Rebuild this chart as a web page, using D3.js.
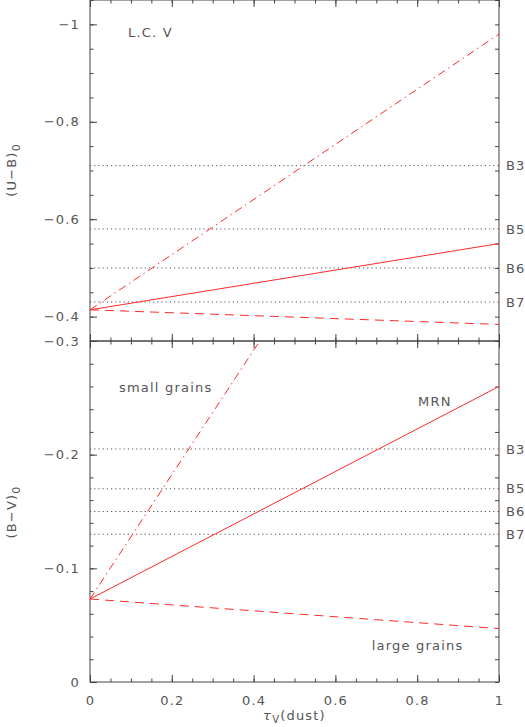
<!DOCTYPE html>
<html>
<head>
<meta charset="utf-8">
<script src="https://cdn.jsdelivr.net/npm/d3@7"></script>
<style>
  body { margin: 0; background: #fff; }
  svg { display: block; }
  text { font-family: "DejaVu Sans", sans-serif; font-size: 13px; fill: #555; letter-spacing: 1.2px; }
  .tick line { stroke: #444; }
</style>
</head>
<body>
<svg id="chart"></svg>
<script>
// optical depth of dust
var tau = [0, 1];

// (U-B)0 for the three grain models
var ubMRN   = [-0.414, -0.55];
var ubSmall = [-0.414, -0.98];
var ubLarge = [-0.414, -0.384];

// (B-V)0 for the three grain models
var bvMRN   = [-0.073, -0.26];
var bvSmall = [-0.073, -0.62];
var bvLarge = [-0.073, -0.047];

// reference main-sequence colours
var stars   = ["B3", "B5", "B6", "B7"];
var ubStars = [-0.71, -0.58, -0.50, -0.43];
var bvStars = [-0.205, -0.17, -0.15, -0.13];

// tick labels
var xTicks  = [0, 0.2, 0.4, 0.6, 0.8, 1];
var ubTicks = [-1, -0.8, -0.6, -0.4];
var bvTicks = [-0.3, -0.2, -0.1, 0];

var W = 525, H = 727;
var svg = d3.select("#chart").attr("width", W).attr("height", H);

var x = d3.scaleLinear().domain([0, 1]).range([90, 499]);
var yTop = d3.scaleLinear().domain([-0.35, -1.05]).range([341, 0]);
var yBot = d3.scaleLinear().domain([0, -0.3]).range([682, 341]);

function fmt(d) {
  var v = Math.round(Math.abs(d) * 100) / 100;
  return (d < 0 ? "\u2212" : "") + v;
}

var xMinor = d3.range(0, 1.0001, 0.05);

function panel(y, major, minor, bottomLabels) {
  var g = svg.append("g");
  var y0 = y.range()[0], y1 = y.range()[1];

  // left: minor then major (labelled)
  g.append("g").attr("transform", "translate(" + x(0) + ",0)")
    .call(d3.axisLeft(y).tickValues(minor).tickSizeInner(-3.5).tickSizeOuter(0).tickFormat(""));
  g.append("g").attr("transform", "translate(" + x(0) + ",0)")
    .call(d3.axisLeft(y).tickValues(major).tickSizeInner(-7).tickSizeOuter(0).tickPadding(10).tickFormat(fmt));

  // right
  g.append("g").attr("transform", "translate(" + x(1) + ",0)")
    .call(d3.axisRight(y).tickValues(minor).tickSizeInner(-4).tickSizeOuter(0).tickFormat(""));

  // top / bottom
  [[y1, d3.axisTop, 1], [y0, d3.axisBottom, -1]].forEach(function(s) {
    g.append("g").attr("transform", "translate(0," + s[0] + ")")
      .call(s[1](x).tickValues(xMinor).tickSizeInner(-3.5).tickSizeOuter(0).tickFormat(""));
    var a = g.append("g").attr("transform", "translate(0," + s[0] + ")")
      .call(s[1](x).tickValues(xTicks).tickSizeInner(-7).tickSizeOuter(0).tickPadding(14).tickFormat(fmt));
    if (!(bottomLabels && s[2] === -1)) a.selectAll("text").remove();
  });
  g.selectAll(".domain").remove();
  g.selectAll("text").attr("font-family", null).attr("font-size", null).attr("fill", null).style("fill", "#555");

  g.append("rect")
    .attr("x", x(0)).attr("y", y1)
    .attr("width", x(1) - x(0)).attr("height", y0 - y1)
    .attr("fill", "none").attr("stroke", "#444").attr("stroke-width", 1);
  return g;
}

function curves(g, y, mrn, small, large, starVals, id) {
  g.append("clipPath").attr("id", id).append("rect")
    .attr("x", x(0)).attr("y", y.range()[1])
    .attr("width", x(1) - x(0)).attr("height", y.range()[0] - y.range()[1]);

  // dotted star lines
  g.selectAll(".star").data(starVals).enter().append("line")
    .attr("class", "star")
    .attr("x1", x(0)).attr("x2", x(1))
    .attr("y1", function(d) { return y(d); }).attr("y2", function(d) { return y(d); })
    .attr("stroke", "#555").attr("stroke-width", 1).attr("stroke-dasharray", "1.2,3");
  g.selectAll(".slab").data(stars).enter().append("text")
    .attr("class", "slab")
    .attr("x", 506).attr("y", function(d, i) { return y(starVals[i]); })
    .attr("dy", "0.36em").text(function(d) { return d; });

  var line = d3.line()
    .x(function(d, i) { return x(tau[i]); })
    .y(function(d) { return y(d); });
  var ls = [[mrn, null], [small, "8,4,1.5,4"], [large, "9,6"]];
  ls.forEach(function(l) {
    g.append("path").datum(l[0])
      .attr("d", line)
      .attr("clip-path", "url(#" + id + ")")
      .attr("fill", "none").attr("stroke", "#ff2a2a").attr("stroke-width", 1)
      .attr("stroke-dasharray", l[1]);
  });
}

var gTop = panel(yTop, ubTicks, d3.range(-1.05, -0.3499, 0.05), false);
curves(gTop, yTop, ubMRN, ubSmall, ubLarge, ubStars, "clipTop");
var gBot = panel(yBot, bvTicks, d3.range(-0.3, 0.0001, 0.02), true);
curves(gBot, yBot, bvMRN, bvSmall, bvLarge, bvStars, "clipBot");

// annotations
svg.append("text").attr("x", x(0.093)).attr("y", yTop(-0.974)).text("L.C. V");
svg.append("text").attr("x", x(0.071)).attr("y", yBot(-0.255)).text("small grains");
svg.append("text").attr("x", x(0.802)).attr("y", yBot(-0.243)).text("MRN");
svg.append("text").attr("x", x(0.689)).attr("y", yBot(-0.028)).text("large grains");

// axis titles
function ytitle(cy, main) {
  var t = svg.append("text")
    .attr("transform", "translate(16," + cy + ") rotate(-90)")
    .attr("text-anchor", "middle");
  t.append("tspan").text(main);
  t.append("tspan").attr("dy", 4).style("font-size", "11px").text("0");
}
ytitle(170, "(U\u2212B)");
ytitle(512, "(B\u2212V)");

var xt = svg.append("text").attr("x", x(0.5)).attr("y", 720).attr("text-anchor", "middle");
xt.append("tspan").style("font-style", "italic").text("\u03c4");
xt.append("tspan").attr("dy", 3).style("font-size", "10px").text("V");
xt.append("tspan").attr("dy", -3).text("(dust)");
</script>
</body>
</html>
